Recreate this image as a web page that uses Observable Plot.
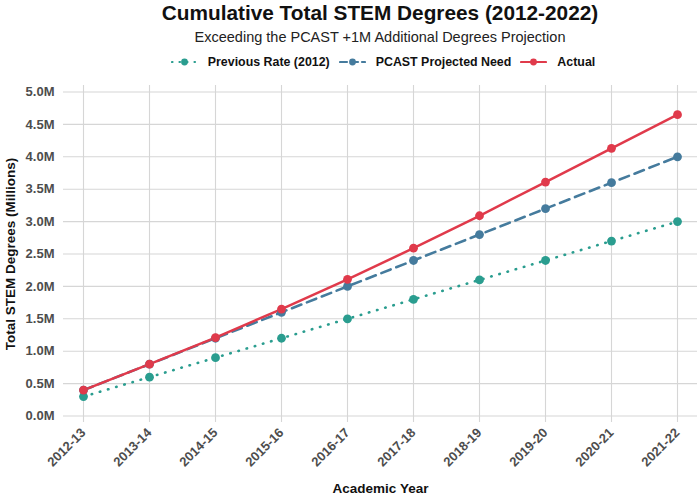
<!DOCTYPE html>
<html>
<head>
<meta charset="utf-8">
<script src="https://cdn.jsdelivr.net/npm/d3@7"></script>
<script src="https://cdn.jsdelivr.net/npm/@observablehq/plot@0.6"></script>
<style>
  html, body { margin: 0; padding: 0; background: #fff; }
  body { width: 700px; height: 496px; overflow: hidden; font-family: "Liberation Sans", Arial, sans-serif; }
  #title { text-align: center; font-weight: bold; font-size: 20.8px; color: #111; margin-top: 0px; height: 26px; line-height: 26px; padding-left: 60px; }
  #subtitle { text-align: center; font-size: 14.5px; color: #222; height: 23px; line-height: 23px; padding-left: 60px; }
  #legend { display: flex; justify-content: center; align-items: center; height: 25px; font-weight: bold; font-size: 12.4px; color: #111; padding-left: 66px; }
  .key { display: flex; align-items: center; margin-right: 9px; }
  .key:last-child { margin-right: 0; }
  .key svg { margin-right: 10px; }
  #chart { position: relative; }
</style>
</head>
<body>
<div id="title">Cumulative Total STEM Degrees (2012-2022)</div>
<div id="subtitle">Exceeding the PCAST +1M Additional Degrees Projection</div>
<div id="legend"></div>
<div id="chart"></div>
<script>
const years = ["2012-13","2013-14","2014-15","2015-16","2016-17","2017-18","2018-19","2019-20","2020-21","2021-22"];
const previousRate = [0.3, 0.6, 0.9, 1.2, 1.5, 1.8, 2.1, 2.4, 2.7, 3.0];
const pcastNeed = [0.4, 0.8, 1.2, 1.6, 2.0, 2.4, 2.8, 3.2, 3.6, 4.0];
const actual = [0.4, 0.8, 1.21, 1.65, 2.11, 2.59, 3.09, 3.61, 4.13, 4.65];
const seriesNames = ["Previous Rate (2012)", "PCAST Projected Need", "Actual"];
const seriesColors = ["#2a9d8f", "#457b9d", "#e03a4b"];
const seriesDash = ["0.5,8", "10,6", null];
const yTicks = [0, 0.5, 1, 1.5, 2, 2.5, 3, 3.5, 4, 4.5, 5];

const seriesValues = [previousRate, pcastNeed, actual];
const data = [];
seriesNames.forEach((name, s) => {
  years.forEach((yr, i) => data.push({series: name, year: yr, value: seriesValues[s][i]}));
});

// Legend (HTML)
const legend = document.getElementById("legend");
seriesNames.forEach((name, s) => {
  const k = document.createElement("div");
  k.className = "key";
  const dash = seriesDash[s] ? (s === 0 ? "0.5,7" : "7,4") : "";
  k.innerHTML = `<svg width="27" height="12"><line x1="1" x2="26" y1="6" y2="6" stroke="${seriesColors[s]}" stroke-width="2.2" stroke-linecap="round" ${dash ? `stroke-dasharray="${dash}"` : ""}/><circle cx="13.5" cy="6" r="3.4" fill="${seriesColors[s]}"/></svg><span>${name}</span>`;
  legend.appendChild(k);
});

const gray = "#4d4d4d";
const plot = Plot.plot({
  width: 700,
  height: 422,
  marginTop: 11,
  marginBottom: 74,
  marginLeft: 63,
  marginRight: 3,
  style: { fontFamily: "Liberation Sans, Arial, sans-serif", background: "#fff", overflow: "visible" },
  x: { type: "point", domain: years, padding: 0.27, label: null },
  y: { domain: [-0.1, 5.1], label: null },
  color: { domain: seriesNames, range: seriesColors },
  marks: [
    Plot.gridY(yTicks, { stroke: "#d6d6d6", strokeOpacity: 1, strokeWidth: 1.1 }),
    Plot.gridX(years, { stroke: "#d6d6d6", strokeOpacity: 1, strokeWidth: 1.1 }),
    Plot.axisY(yTicks, { tickSize: 0, tickPadding: 9, tickFormat: d => d.toFixed(1) + "M", fontSize: 13, fontWeight: "bold", fill: gray, label: null }),
    Plot.axisX(years, { tickSize: 0, tickPadding: 8, tickRotate: -45, fontSize: 13, fontWeight: "bold", fill: gray, label: null }),
    ...seriesNames.map((name, s) => Plot.line(data.filter(d => d.series === name), {
      x: "year", y: "value", stroke: seriesColors[s], strokeWidth: s === 2 ? 2.5 : 2.6,
      strokeDasharray: seriesDash[s], strokeLinecap: "round"
    })),
    ...seriesNames.map((name, s) => Plot.dot(data.filter(d => d.series === name), {
      x: "year", y: "value", fill: seriesColors[s], r: 4.4
    })),
    Plot.text(["Academic Year"], { frameAnchor: "bottom", dy: 70, fontSize: 13.5, fontWeight: "bold", fill: "#111" }),
    Plot.text(["Total STEM Degrees (Millions)"], { frameAnchor: "left", textAnchor: "middle", dx: -53, rotate: -90, fontSize: 13.5, fontWeight: "bold", fill: "#111" })
  ]
});
document.getElementById("chart").appendChild(plot);
</script>
</body>
</html>
